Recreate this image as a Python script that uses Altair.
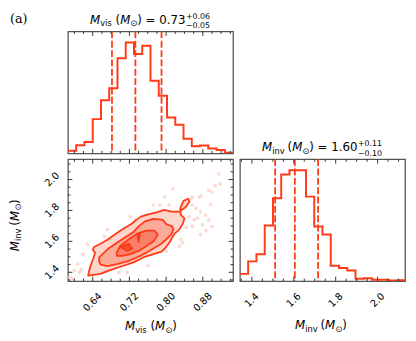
import altair as alt
import pandas as pd
import numpy as np

# ---------------- data ----------------
VIS_RANGE = [0.586, 0.946]
INV_RANGE = [1.343, 2.131]

vis_counts = [8, 25, 35, 105, 163, 200, 292, 340, 305, 330, 223, 177, 110, 88, 45, 22, 24, 15, 10, 2]
inv_counts = [22, 60, 82, 169, 252, 324, 337, 337, 257, 166, 142, 47, 40, 32, 7, 9, 4, 4, 2, 3]
vis_quantiles = [0.682, 0.733, 0.790]
inv_quantiles = [1.511, 1.605, 1.716]

vis_major = [0.64, 0.72, 0.80, 0.88]
vis_major_labels = ["0.64", "0.72", "0.80", "0.88"]
vis_minor = [0.60, 0.62, 0.66, 0.68, 0.70, 0.74, 0.76, 0.78, 0.82, 0.84, 0.86, 0.90, 0.92, 0.94]
inv_major = [1.4, 1.6, 1.8, 2.0]
inv_major_labels = ["1.4", "1.6", "1.8", "2.0"]
inv_minor = [1.35, 1.45, 1.5, 1.55, 1.65, 1.7, 1.75, 1.85, 1.9, 1.95, 2.05, 2.1]

vis_title = ["vis", "0.73", "+0.06", "\u22120.05"]
inv_title = ["inv", "1.60", "+0.11", "\u22120.10"]
panel_tag = "(a)"

# contour polygons (M_vis, M_inv)
c1_vis = [0.630, 0.657, 0.675, 0.700, 0.729, 0.750, 0.772, 0.790, 0.800, 0.807, 0.813, 0.818, 0.829, 0.837,
          0.840, 0.832, 0.831, 0.838, 0.848, 0.851, 0.843, 0.829, 0.811, 0.797, 0.779, 0.761, 0.745, 0.735,
          0.725, 0.713, 0.700, 0.686, 0.672, 0.657, 0.643, 0.640, 0.645, 0.642, 0.636, 0.632]
c1_inv = [1.379, 1.390, 1.411, 1.436, 1.464, 1.496, 1.517, 1.534, 1.563, 1.591, 1.623, 1.648, 1.676, 1.718,
          1.750, 1.771, 1.815, 1.862, 1.876, 1.858, 1.822, 1.792, 1.792, 1.803, 1.788, 1.775, 1.760, 1.739,
          1.714, 1.693, 1.669, 1.640, 1.610, 1.585, 1.563, 1.546, 1.527, 1.496, 1.449, 1.407]
c2_vis = [0.654, 0.665, 0.675, 0.693, 0.711, 0.729, 0.740, 0.754, 0.772, 0.793, 0.800, 0.813, 0.816, 0.811,
          0.800, 0.790, 0.775, 0.757, 0.736, 0.715, 0.693, 0.672, 0.657, 0.654]
c2_inv = [1.496, 1.527, 1.555, 1.591, 1.627, 1.661, 1.697, 1.729, 1.746, 1.739, 1.712, 1.697, 1.676, 1.644,
          1.612, 1.585, 1.559, 1.527, 1.496, 1.470, 1.453, 1.440, 1.449, 1.470]
c3_vis = [0.692, 0.700, 0.718, 0.736, 0.757, 0.775, 0.782, 0.773, 0.757, 0.740, 0.722, 0.704, 0.693]
c3_inv = [1.527, 1.570, 1.612, 1.648, 1.669, 1.669, 1.644, 1.601, 1.570, 1.538, 1.517, 1.506, 1.506]
c4a_vis = [0.701, 0.719, 0.726, 0.715]
c4a_inv = [1.563, 1.585, 1.553, 1.538]
c4b_vis = [0.737, 0.743, 0.740]
c4b_inv = [1.648, 1.648, 1.595]

samples_vis = [0.915, 0.918, 0.907, 0.893, 0.900, 0.872, 0.857, 0.815, 0.797, 0.857, 0.865, 0.875, 0.886,
               0.868, 0.879, 0.893, 0.861, 0.850, 0.800, 0.761, 0.672, 0.665, 0.629, 0.618, 0.607, 0.600,
               0.611, 0.597, 0.590, 0.615, 0.697, 0.715, 0.829, 0.832, 0.836, 0.722, 0.732, 0.786, 0.807,
               0.772, 0.857, 0.900, 0.875, 0.855, 0.876, 0.897, 0.887, 0.844]
samples_inv = [2.036, 1.972, 1.962, 1.930, 1.919, 1.887, 1.887, 1.940, 1.887, 1.835, 1.813, 1.792, 1.771,
               1.750, 1.707, 1.739, 1.739, 1.760, 1.538, 1.443, 1.676, 1.633, 1.580, 1.517, 1.453, 1.411,
               1.400, 1.358, 1.368, 1.421, 1.400, 1.400, 1.570, 1.612, 1.591, 1.760, 1.739, 1.835, 1.835,
               1.835, 1.697, 1.697, 1.644, 1.881, 1.892, 1.839, 1.669, 1.690]

# ---------------- style ----------------
W, H = 168, 124
FONT = "DejaVu Sans"
RED = "#ff3a17"
FILLS = ["#fdd5cb", "#fbab98", "#f88068", "#f2502f"]
TICK = "#333333"
MAJ, MIN = 4.5, 2.5
LABEL_SIZE = 10
ONE = pd.DataFrame({"k": [0]})


def step_df(counts, rng):
    edges = np.linspace(rng[0], rng[1], len(counts) + 1)
    return pd.DataFrame({"x": list(edges), "y": list(counts) + [counts[-1]]})


def xtick_layers(vals, length, scale):
    df = pd.DataFrame({"t": vals})
    out = []
    for y, y2 in [(H, H - length), (0, length)]:
        out.append(alt.Chart(df).mark_rule(color=TICK, strokeWidth=1).encode(
            x=alt.X("t:Q", scale=scale, axis=None), y=alt.value(y), y2=alt.value(y2)))
    return out


def ytick_layers(vals, length, scale):
    df = pd.DataFrame({"t": vals})
    out = []
    for x, x2 in [(0, length), (W, W - length)]:
        out.append(alt.Chart(df).mark_rule(color=TICK, strokeWidth=1).encode(
            y=alt.Y("t:Q", scale=scale, axis=None), x=alt.value(x), x2=alt.value(x2)))
    return out


def xlabel_layer(vals, labels, scale, yoff):
    df = pd.DataFrame({"t": vals, "lab": labels})
    return alt.Chart(df).mark_text(angle=315, align="center", baseline="middle", font=FONT,
                                   fontSize=LABEL_SIZE, color="black").encode(
        x=alt.X("t:Q", scale=scale, axis=None), y=alt.value(H + yoff), text="lab:N")


def ylabel_layer(vals, labels, scale):
    df = pd.DataFrame({"t": vals, "lab": labels})
    return alt.Chart(df).mark_text(angle=315, align="center", baseline="middle", font=FONT,
                                   fontSize=LABEL_SIZE, color="black").encode(
        y=alt.Y("t:Q", scale=scale, axis=None), x=alt.value(-16), text="lab:N")


def piece(txt, x, y, size, italic=False, font=FONT, angle=0, dx=0, dy=0):
    kw = dict(text=txt, font=font, fontSize=size, align="left", baseline="alphabetic",
              color="black", dx=dx, dy=dy)
    if italic:
        kw["fontStyle"] = "italic"
    if angle:
        kw["angle"] = angle
    return alt.Chart(ONE).mark_text(**kw).encode(x=alt.value(x), y=alt.value(y))


MAIN, SMALL, SCRIPT = 12, 8.4, 8


def base_parts(sub):
    return [("M", 0, 0, MAIN, True), (sub, 10.4, 2.5, SMALL, False),
            ("(", 25.9, 0, MAIN, False), ("M", 30.6, 0, MAIN, True),
            ("\u2299", 41.0, 2.5, SMALL, False), (")", 48.0, 0, MAIN, False)]


def label_layers(sub, x0, y0, angle=0):
    return [piece(t, x0, y0, s, it, FONT, angle, dx, dy) for (t, dx, dy, s, it) in base_parts(sub)]


def title_layers(info, x0, y0):
    sub, val, plus, minus = info
    parts = base_parts(sub) + [("=", 56.5, 0, MAIN, False), (val, 70.4, 0, MAIN, False),
                               (plus, 97.5, -5.2, SCRIPT, False), (minus, 97.5, 4.3, SCRIPT, False)]
    return [piece(t, x0, y0, s, it, FONT, 0, dx, dy) for (t, dx, dy, s, it) in parts]


def hist_panel(counts, rng, quants, major, minor, major_labels, info, yoff):
    xs = alt.Scale(domain=rng, nice=False, zero=False)
    ys = alt.Scale(domain=[0, 1.1 * max(counts)], nice=False, zero=True)
    line = alt.Chart(step_df(counts, rng)).mark_line(
        interpolate="step-after", color=RED, strokeWidth=2, clip=True).encode(
        x=alt.X("x:Q", scale=xs, axis=None), y=alt.Y("y:Q", scale=ys, axis=None))
    q = alt.Chart(pd.DataFrame({"q": quants})).mark_rule(
        color=RED, strokeDash=[7, 2.5], strokeWidth=1.8).encode(
        x=alt.X("q:Q", scale=xs, axis=None))
    layers = [line, q] + xtick_layers(major, MAJ, xs) + xtick_layers(minor, MIN, xs)
    if major_labels:
        layers.append(xlabel_layer(major, major_labels, xs, yoff))
    layers += title_layers(info, W / 2 - 61.5, -8)
    return layers


# top histogram
top_layers = hist_panel(vis_counts, VIS_RANGE, vis_quantiles, vis_major, vis_minor, None, vis_title, 21.5)
top_layers.append(piece(panel_tag, -59, -8.5, 13, font="DejaVu Serif"))
top = alt.layer(*top_layers).properties(width=W, height=H)

# right histogram
right_layers = hist_panel(inv_counts, INV_RANGE, inv_quantiles, inv_major, inv_minor, inv_major_labels,
                          inv_title, 19.5)
right_layers += label_layers("inv", 56, 173)
right = alt.layer(*right_layers).properties(width=W, height=H)

# blank cell
blank = alt.Chart(ONE).mark_point(opacity=0).encode(x=alt.value(0), y=alt.value(0)).properties(
    width=W, height=H, view=alt.ViewBackground(stroke="transparent"))

# 2D panel
xs2 = alt.Scale(domain=VIS_RANGE, nice=False, zero=False)
ys2 = alt.Scale(domain=INV_RANGE, nice=False, zero=False)
pts = alt.Chart(pd.DataFrame({"v": samples_vis, "i": samples_inv})).mark_circle(
    color="#fcd3ca", opacity=0.85, size=14, clip=True).encode(
    x=alt.X("v:Q", scale=xs2, axis=None), y=alt.Y("i:Q", scale=ys2, axis=None))


def poly(vx, vy, fill):
    df = pd.DataFrame({"v": vx, "i": vy, "o": list(range(len(vx)))})
    return alt.Chart(df).mark_line(interpolate="linear-closed", fill=fill, stroke=RED,
                                   strokeWidth=1.8, strokeJoin="round", clip=True).encode(
        x=alt.X("v:Q", scale=xs2, axis=None), y=alt.Y("i:Q", scale=ys2, axis=None),
        order=alt.Order("o:Q"))


mid_layers = [pts,
              poly(c1_vis, c1_inv, FILLS[0]),
              poly(c2_vis, c2_inv, FILLS[1]),
              poly(c3_vis, c3_inv, FILLS[2]),
              poly(c4a_vis, c4a_inv, FILLS[3]),
              poly(c4b_vis, c4b_inv, FILLS[3])]
mid_layers += xtick_layers(vis_major, MAJ, xs2) + xtick_layers(vis_minor, MIN, xs2)
mid_layers += ytick_layers(inv_major, MAJ, ys2) + ytick_layers(inv_minor, MIN, ys2)
mid_layers.append(xlabel_layer(vis_major, vis_major_labels, xs2, 21.5))
mid_layers.append(ylabel_layer(inv_major, inv_major_labels, ys2))
mid_layers += label_layers("vis", 58, 174)
mid_layers += label_layers("inv", -50, 93.5, angle=270)
mid = alt.layer(*mid_layers).properties(width=W, height=H)

chart = alt.concat(top, blank, mid, right, columns=2, spacing={"row": 6, "column": 7},
                   bounds="flush").configure(
    padding={"left": 0, "top": 1, "right": 2, "bottom": 0}).configure_view(
    stroke="#555555", strokeWidth=1.3)

chart.save("out.html", embed_options={"renderer": "svg", "actions": False})
